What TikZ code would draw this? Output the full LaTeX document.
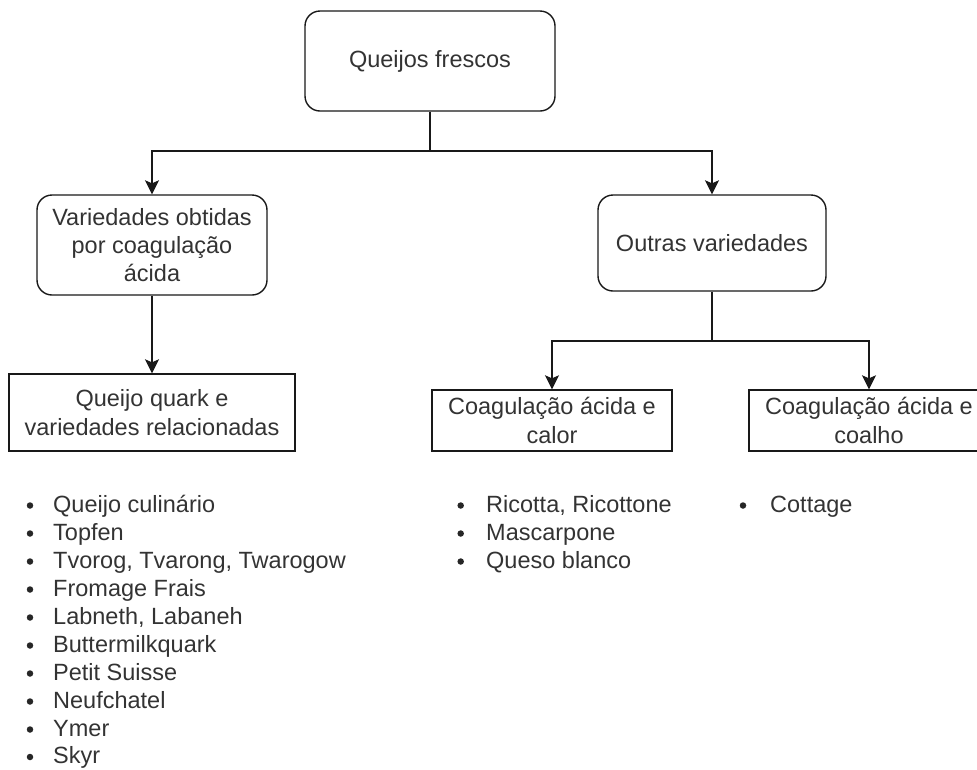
\documentclass[tikz,border=0pt]{standalone}
\usepackage{fontspec}
\setmainfont{Liberation Sans}
\usetikzlibrary{arrows.meta}

\tikzset{
  txt/.style={text=black!80, font=\fontsize{23.5pt}{28.3pt}\selectfont},
  roundbox/.style={txt, draw=black!90, line width=1.4pt, rounded corners=15pt, align=center, inner sep=0pt},
  flatbox/.style={txt, draw=black!90, line width=1.4pt, align=center, inner sep=0pt},
  link/.style={draw=black!90, line width=1.4pt, -{Stealth[length=14pt,width=14pt,inset=3pt]}},
  item/.style={txt, anchor=base west, inner sep=0pt},
  dot/.style={circle, fill=black!85, inner sep=0pt, minimum size=6.5pt},
}
% bullet at x=#2, text at x=#3, baseline y=#4
\newcommand\listitem[5]{\node[dot] (#1b) at(#2, #4 - 6.5) {}; \node[item] (#1) at(#3, #4) {#5};}

\begin{document}
\begin{tikzpicture}[x=1pt, y=-1pt]
      \useasboundingbox (0,0) rectangle (977,769);

      \node[roundbox, minimum width=250, minimum height=100] (top) at(430, 61) {Queijos frescos};
      \node[roundbox, minimum width=230, minimum height=100] (acid) at(152, 245) {Variedades obtidas\\por coagulação\\ácida};
      \node[roundbox, minimum width=228, minimum height=96] (other) at(712, 243) {Outras variedades};

      \node[flatbox, minimum width=286, minimum height=77] (quark) at(152, 412.5) {Queijo quark e\\variedades relacionadas};
      \node[flatbox, minimum width=240, minimum height=61] (heat) at(552, 420.5) {Coagulação ácida e\\calor};
      \node[flatbox, minimum width=240, minimum height=61] (rennet) at(869, 420.5) {Coagulação ácida e\\coalho};

      \coordinate (split1) at(430, 151);
      \coordinate (split2) at(712, 341);
      \draw[link] (top.south) -- (split1) -| (acid.north);
      \draw[link] (split1) -| (other.north);
      \draw[link] (acid.south) -- (quark.north);
      \draw[link] (other.south) -- (split2) -| (heat.north);
      \draw[link] (split2) -| (rennet.north);

      % lists
      \listitem{q1}{30}{53}{512}{Queijo culinário}
      \listitem{q2}{30}{53}{540}{Topfen}
      \listitem{q3}{30}{53}{568}{Tvorog, Tvarong, Twarogow}
      \listitem{q4}{30}{53}{596}{Fromage Frais}
      \listitem{q5}{30}{53}{624}{Labneth, Labaneh}
      \listitem{q6}{30}{53}{652}{Buttermilkquark}
      \listitem{q7}{30}{53}{680}{Petit Suisse}
      \listitem{q8}{30}{53}{708}{Neufchatel}
      \listitem{q9}{30}{53}{736}{Ymer}
      \listitem{q10}{30}{53}{763.5}{Skyr}

      \listitem{h1}{460.7}{486}{512}{Ricotta, Ricottone}
      \listitem{h2}{460.7}{486}{540}{Mascarpone}
      \listitem{h3}{460.7}{486}{568}{Queso blanco}

      \listitem{r1}{743}{770}{512}{Cottage}
    \end{tikzpicture}
\end{document}
